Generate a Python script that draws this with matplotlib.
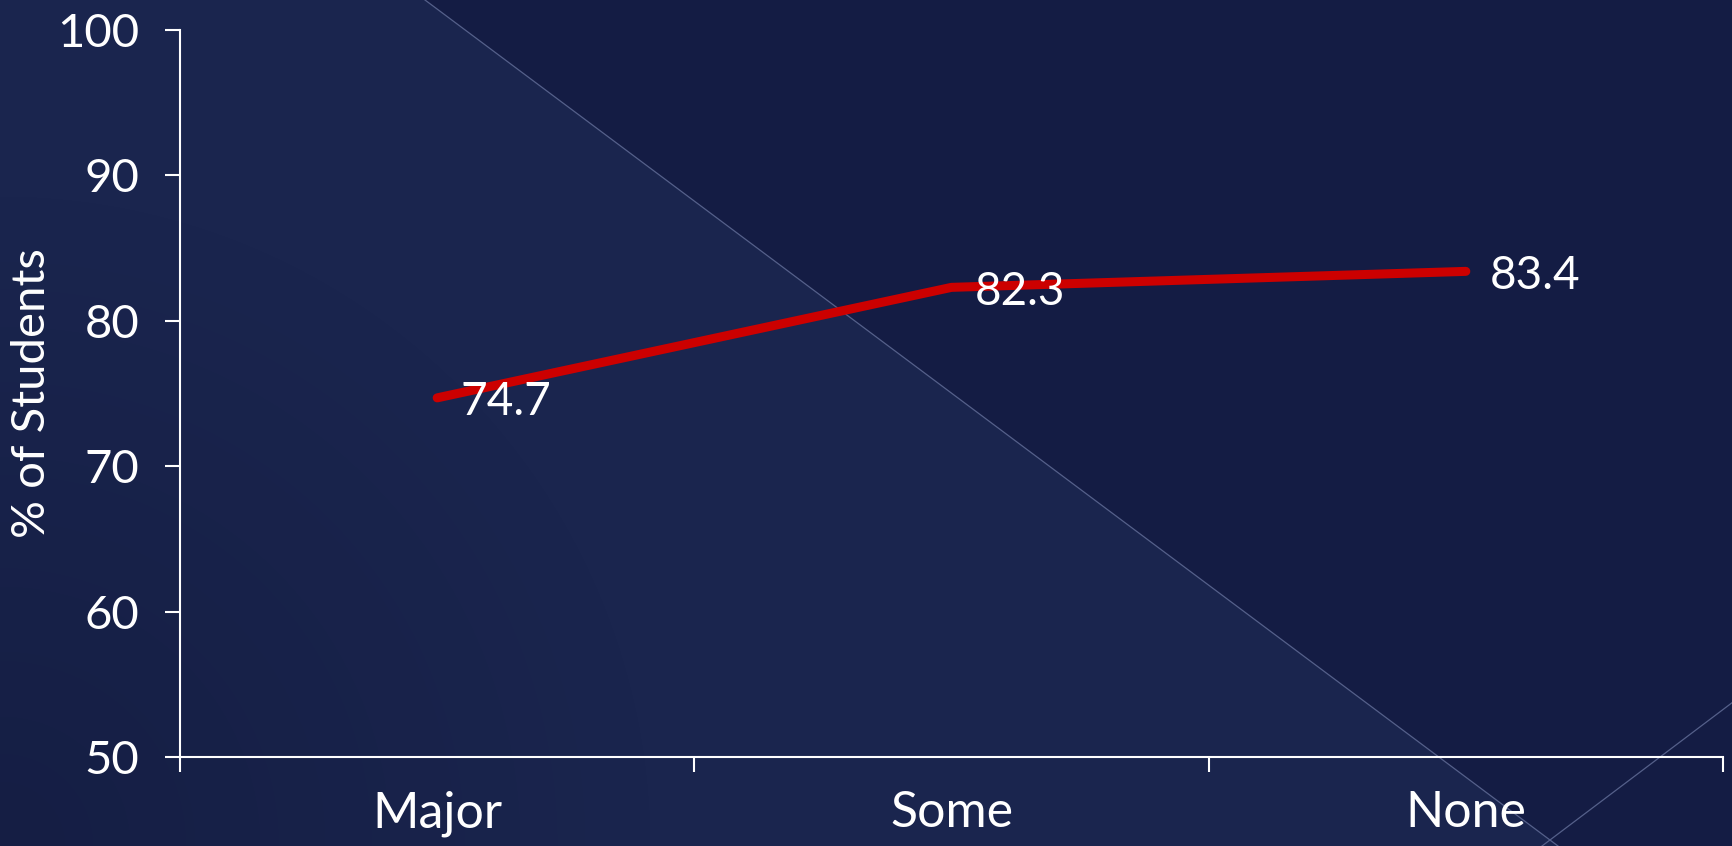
import numpy as np
import matplotlib.pyplot as plt
from matplotlib.lines import Line2D

categories = ['Major', 'Some', 'None']
pct_students = [74.7, 82.3, 83.4]
y_ticks = [50, 60, 70, 80, 90, 100]

W, H = 1733, 846
plt.rcParams['font.family'] = ['Lato', 'DejaVu Sans']

fig = plt.figure(figsize=(W / 100, H / 100), dpi=100)
fig.patch.set_facecolor('#141c44')

# background image: lighter panel left of the diagonal, darker on the right,
# slight shading towards the bottom-left corner
yy, xx = np.mgrid[0:H, 0:W]
left = xx < 425 + (1558 - 425) * yy / H
light = np.array([26, 37, 78]) / 255
dark = np.array([20, 28, 68]) / 255
corner = np.array([21, 30, 68]) / 255
t = np.clip(1 - np.hypot(xx, H - yy) / 650, 0, 1)[..., None]
img = np.where(left[..., None], light * (1 - t) + corner * t, dark)

bg = fig.add_axes([0, 0, 1, 1], zorder=0)
bg.imshow(img, extent=(0, W, H, 0), aspect='auto', interpolation='bilinear')
bg.set_xlim(0, W)
bg.set_ylim(H, 0)
bg.axis('off')
bg.add_line(Line2D([425, 1558], [0, H], color='#55608a', lw=0.9))
bg.add_line(Line2D([1542, W], [H, 702], color='#55608a', lw=0.9))

ax = fig.add_axes([180 / W, (H - 757) / H, (1723 - 180) / W, (757 - 30) / H], zorder=1)
ax.patch.set_alpha(0)

x = np.arange(len(categories))
ax.plot(x, pct_students, color='#cc0000', lw=6.5, solid_capstyle='round', zorder=3)
for xi, v in zip(x, pct_students):
    ax.annotate(f'{v}', (xi, v), xytext=(17, -3), textcoords='offset points',
                ha='left', va='center', color='white', fontsize=33)

ax.set_xlim(-0.5, len(categories) - 0.5)
ax.set_ylim(50, 100)
ax.set_yticks(y_ticks)
ax.set_xticks(x)
ax.set_xticklabels(categories)
ax.set_xticks(np.arange(-0.5, len(categories)), minor=True)

for s in ['top', 'right']:
    ax.spines[s].set_visible(False)
for s in ['left', 'bottom']:
    ax.spines[s].set_color('white')
    ax.spines[s].set_linewidth(1.5)

ax.tick_params(axis='y', colors='white', labelsize=34, length=10.5, width=1.5, pad=19)
ax.tick_params(axis='x', which='major', colors='white', labelsize=36, length=0, pad=24)
ax.tick_params(axis='x', which='minor', colors='white', length=10.5, width=1.5)

ax.set_ylabel('% of Students', color='white', fontsize=34)
ax.yaxis.set_label_coords(-0.0823, 0.5)

fig.savefig('out.png', dpi=100, facecolor=fig.get_facecolor())
